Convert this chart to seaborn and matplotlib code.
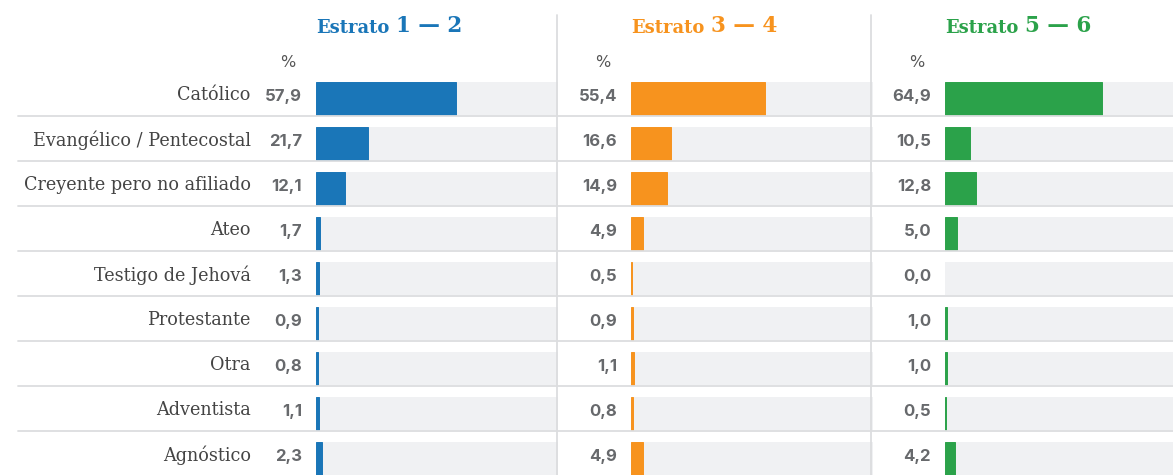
import matplotlib
matplotlib.use("Agg")
import matplotlib.pyplot as plt
import matplotlib.transforms as mtransforms
from matplotlib.lines import Line2D
import seaborn as sns
import pandas as pd

# datos
categorias = ["Católico", "Evangélico / Pentecostal", "Creyente pero no afiliado", "Ateo",
              "Testigo de Jehová", "Protestante", "Otra", "Adventista", "Agnóstico"]
estrato_12 = [57.9, 21.7, 12.1, 1.7, 1.3, 0.9, 0.8, 1.1, 2.3]
estrato_34 = [55.4, 16.6, 14.9, 4.9, 0.5, 0.9, 1.1, 0.8, 4.9]
estrato_56 = [64.9, 10.5, 12.8, 5.0, 0.0, 1.0, 1.0, 0.5, 4.2]
titulos = [("Estrato", "1 — 2"), ("Estrato", "3 — 4"), ("Estrato", "5 — 6")]
colores = ["#1a76b8", "#f7931e", "#2ba24a"]

sns.set_theme(style="white")
plt.rcParams["font.family"] = ["DejaVu Sans"]

W, H = 1173, 475
fig = plt.figure(figsize=(W / 100, H / 100), dpi=100)

top_px = 76
row_px = 45
ymax = -0.5 + (H - top_px) / row_px
izquierdas = [316, 631, 945]
ancho_px = 241.5

serie = [estrato_12, estrato_34, estrato_56]
axes = []
for k, (vals, col) in enumerate(zip(serie, colores)):
    ax = fig.add_axes([izquierdas[k] / W, 0, ancho_px / W, (H - top_px) / H])
    df = pd.DataFrame({"cat": categorias, "val": vals, "fondo": [100] * len(vals)})
    sns.barplot(data=df, x="fondo", y="cat", orient="h", color="#f0f1f3",
                width=0.733, ax=ax, saturation=1, linewidth=0)
    sns.barplot(data=df, x="val", y="cat", orient="h", color=col,
                width=0.733, ax=ax, saturation=1, edgecolor=col, linewidth=0.7)
    # sin marca para valores cero
    for p in ax.containers[1]:
        if p.get_width() == 0:
            p.set_visible(False)
    ax.set_xlim(0, 100)
    ax.set_ylim(ymax, -0.5)
    ax.axis("off")
    for i, v in enumerate(vals):
        ax.annotate(f"{v:.1f}".replace(".", ","), xy=(0, i), xytext=(-10, 1.5),
                    textcoords="offset points", ha="right", va="center",
                    fontsize=12, fontweight="bold", color="#67696c",
                    family="Inter", annotation_clip=False)
    ax.annotate("%", xy=(0, 1), xycoords="axes fraction", xytext=(-20, 9.5),
                textcoords="offset points", ha="center", va="center",
                fontsize=11.5, color="#555555")
    t1 = ax.annotate(titulos[k][0], xy=(0, 1), xycoords="axes fraction",
                     xytext=(0, 31), textcoords="offset points", ha="left",
                     va="baseline", fontsize=13, fontweight="bold", color=col,
                     family="DejaVu Serif")
    ax.annotate(titulos[k][1], xy=(1, 0), xycoords=t1, xytext=(5, 0),
                textcoords="offset points", ha="left", va="bottom",
                fontsize=15.5, fontweight="bold", color=col,
                family="DejaVu Serif")
    axes.append(ax)

ax0 = axes[0]
for i, c in enumerate(categorias):
    ax0.annotate(c, xy=(0, i), xytext=(-47, 2.5), textcoords="offset points",
                 ha="right", va="center", fontsize=12.7, color="#444444",
                 family="DejaVu Serif", annotation_clip=False)

# líneas separadoras
trans = mtransforms.blended_transform_factory(fig.transFigure, ax0.transData)
for i in range(len(categorias) - 1):
    y = i + 0.395
    fig.add_artist(Line2D([18 / W, 1], [y, y], transform=trans,
                          color="#dcdddf", lw=1.3))
for xp in [557, 871]:
    fig.add_artist(Line2D([xp / W, xp / W], [0, 1 - 15 / H],
                          transform=fig.transFigure, color="#dcdddf", lw=1.3))

fig.savefig("out.png", dpi=100)
